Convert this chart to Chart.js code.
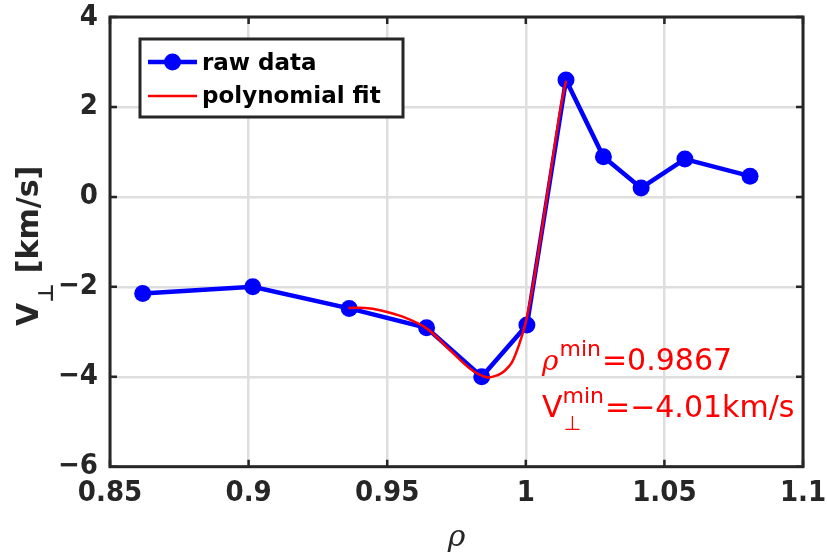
<!DOCTYPE html>
<html>
<head>
<meta charset="utf-8">
<script src="https://cdn.jsdelivr.net/npm/chart.js@4.4.1/dist/chart.umd.min.js"></script>
<style>
  html,body{margin:0;padding:0;background:#fff}
  canvas{display:block}
</style>
</head>
<body>
<canvas id="vperpChart" width="827" height="556"></canvas>
<script>
// raw profile
const rho   = [0.8618, 0.9015, 0.9363, 0.9642, 0.9841, 1.0004, 1.0145, 1.0280, 1.0416, 1.0574, 1.0809];
const vperp = [-2.15, -2.00, -2.48, -2.91, -4.00, -2.85, 2.60, 0.89, 0.20, 0.84, 0.46];

// polynomial fit curve (sampled along the red line)
const fitRho = [0.936, 0.942, 0.9474, 0.9558, 0.9643, 0.9727, 0.9799, 0.9859, 0.990, 0.9925, 0.995, 0.9975, 1.0, 1.0025, 1.005, 1.0078, 1.0102, 1.0126, 1.0145];
const fitV   = [-2.47, -2.47, -2.52, -2.67, -2.93, -3.41, -3.82, -4.01, -3.96, -3.86, -3.68, -3.30, -2.78, -2.0, -1.05, 0.08, 1.05, 2.0, 2.58];

const xTicks = [0.85, 0.9, 0.95, 1, 1.05, 1.1];
const yTicks = [-6, -4, -2, 0, 2, 4];
const seriesLabels = ['raw data', 'polynomial fit'];
const rhoMinText = '=0.9867';
const vMinText = '=\u22124.01km/s';

const AXIS = '#262626';
const TICK_FONT = {family: "'DejaVu Sans Condensed', 'DejaVu Sans', sans-serif", size: 29, weight: 'bold', lineHeight: 1};

function fmtTick(v){
  const s = String(Number(v.toFixed(2)));
  return v < 0 ? '\u2212' + s.slice(1) : s;
}

// frame + inward tick marks, MATLAB style
const framePlugin = {
  id: 'frame',
  afterDatasetsDraw(chart){
    const {ctx, chartArea: a, scales} = chart;
    ctx.save();
    ctx.strokeStyle = AXIS;
    ctx.lineWidth = 2.5;
    ctx.beginPath();
    xTicks.forEach(v=>{
      const px = scales.x.getPixelForValue(v);
      ctx.moveTo(px, a.bottom); ctx.lineTo(px, a.bottom - 7);
      ctx.moveTo(px, a.top); ctx.lineTo(px, a.top + 7);
    });
    yTicks.forEach(v=>{
      const py = scales.y.getPixelForValue(v);
      ctx.moveTo(a.left, py); ctx.lineTo(a.left + 7, py);
      ctx.moveTo(a.right, py); ctx.lineTo(a.right - 7, py);
    });
    ctx.stroke();
    ctx.lineWidth = 3;
    ctx.strokeRect(a.left, a.top, a.right - a.left, a.bottom - a.top);
    ctx.restore();
  }
};

// legend box, axis titles and the minimum annotation
const textPlugin = {
  id: 'texts',
  afterDraw(chart){
    const {ctx, chartArea: a} = chart;
    const ds = chart.data.datasets;
    ctx.save();

    // legend
    ctx.fillStyle = '#fff';
    ctx.fillRect(140, 39, 263, 78);
    ctx.strokeStyle = AXIS;
    ctx.lineWidth = 3;
    ctx.strokeRect(140, 39, 263, 78);
    ctx.strokeStyle = ds[0].borderColor;
    ctx.lineWidth = ds[0].borderWidth;
    ctx.beginPath(); ctx.moveTo(148, 62); ctx.lineTo(197, 62); ctx.stroke();
    ctx.fillStyle = ds[0].pointBackgroundColor;
    ctx.beginPath(); ctx.arc(172.5, 62, ds[0].pointRadius, 0, Math.PI*2); ctx.fill();
    ctx.strokeStyle = ds[1].borderColor;
    ctx.lineWidth = ds[1].borderWidth;
    ctx.beginPath(); ctx.moveTo(148, 96); ctx.lineTo(197, 96); ctx.stroke();
    ctx.fillStyle = '#000';
    ctx.font = "bold 23px 'DejaVu Sans'";
    ctx.textBaseline = 'alphabetic';
    ctx.textAlign = 'left';
    ctx.fillText(ds[0].label, 202, 70);
    ctx.fillText(ds[1].label, 202, 103);

    // x title
    ctx.fillStyle = AXIS;
    ctx.font = "italic 30px 'DejaVu Serif'";
    ctx.textAlign = 'center';
    ctx.fillText('\u03c1', (a.left + a.right)/2, 546);

    // y title, rotated, with subscript
    ctx.save();
    ctx.translate(38, 326);
    ctx.rotate(-Math.PI/2);
    ctx.textAlign = 'left';
    ctx.font = "bold 30px 'DejaVu Sans'";
    ctx.fillText('V', 0, 0);
    const wV = ctx.measureText('V').width;
    ctx.font = "bold 21px 'DejaVu Sans'";
    ctx.fillText('\u22a5', wV, 15);
    const wP = ctx.measureText('\u22a5').width;
    ctx.font = "bold 30px 'DejaVu Sans'";
    ctx.fillText(' [km/s]', wV + wP, 0);
    ctx.restore();

    // annotation
    ctx.fillStyle = '#ff0000';
    ctx.textAlign = 'left';
    const x0 = 542;
    ctx.font = "italic 28px 'DejaVu Serif'";
    ctx.fillText('\u03c1', x0, 370);
    const wr = ctx.measureText('\u03c1').width;
    ctx.font = "22px 'DejaVu Sans'";
    ctx.fillText('min', x0 + wr + 1, 356);
    const wm = ctx.measureText('min').width;
    ctx.font = "30px 'DejaVu Sans'";
    ctx.fillText(rhoMinText, x0 + wr + 1 + wm + 1, 370);

    ctx.font = "30px 'DejaVu Sans'";
    ctx.fillText('V', x0, 417);
    const wv2 = ctx.measureText('V').width;
    ctx.font = "22px 'DejaVu Sans'";
    ctx.fillText('min', x0 + wv2, 403);
    const wm2 = ctx.measureText('min').width;
    ctx.font = "20px 'DejaVu Sans'";
    ctx.fillText('\u22a5', x0 + wv2 + 1, 430);
    ctx.font = "30px 'DejaVu Sans'";
    ctx.fillText(vMinText, x0 + wv2 + wm2 + 1, 417);

    ctx.restore();
  }
};

new Chart(document.getElementById('vperpChart'), {
  type: 'line',
  data: {
    datasets: [
      {
        label: seriesLabels[0],
        data: rho.map((r,i)=>({x:r, y:vperp[i]})),
        borderColor: '#0000ff',
        backgroundColor: '#0000ff',
        pointBackgroundColor: '#0000ff',
        pointBorderWidth: 0,
        pointRadius: 8.5,
        borderWidth: 4.5,
        tension: 0,
        order: 2
      },
      {
        label: seriesLabels[1],
        data: fitRho.map((r,i)=>({x:r, y:fitV[i]})),
        borderColor: '#ff0000',
        backgroundColor: '#ff0000',
        pointRadius: 0,
        borderWidth: 2.5,
        tension: 0.35,
        order: 1
      }
    ]
  },
  options: {
    responsive: false,
    animation: false,
    layout: {padding: {top: 17, right: 24, bottom: 0, left: 0}},
    plugins: {legend: {display: false}, tooltip: {enabled: false}},
    scales: {
      x: {
        type: 'linear', min: 0.85, max: 1.1,
        afterBuildTicks: s => { s.ticks = xTicks.map(v=>({value:v})); },
        afterFit: s => { s.height = 89.3; s.paddingLeft = 0; s.paddingRight = 0; },
        grid: {color: '#dedede', lineWidth: 2.5, drawTicks: false},
        border: {display: false},
        ticks: {color: AXIS, font: TICK_FONT, padding: 12, maxRotation: 0, callback: v => fmtTick(v)}
      },
      y: {
        type: 'linear', min: -6, max: 4,
        afterBuildTicks: s => { s.ticks = yTicks.map(v=>({value:v})); },
        afterFit: s => { s.width = 110; s.paddingTop = 0; s.paddingBottom = 0; },
        grid: {color: '#dedede', lineWidth: 2.5, drawTicks: false},
        border: {display: false},
        ticks: {color: AXIS, font: TICK_FONT, padding: 12, callback: v => fmtTick(v)}
      }
    }
  },
  plugins: [framePlugin, textPlugin]
});
</script>
</body>
</html>
